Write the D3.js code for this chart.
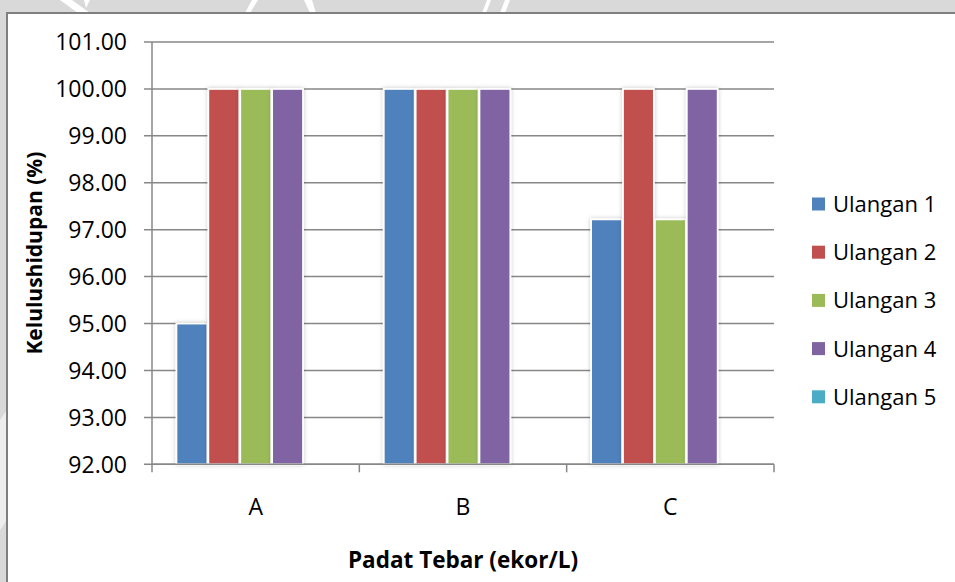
<!DOCTYPE html>
<html>
<head>
<meta charset="utf-8">
<script src="https://cdn.jsdelivr.net/npm/d3@7"></script>
<style>
  html, body { margin: 0; padding: 0; background: #d9d9d9; }
  svg { display: block; }
  text { font-family: "Open Sans", "Noto Sans", sans-serif; fill: #000; }
</style>
</head>
<body>
<svg id="chart" width="955" height="582"></svg>
<script>
const categories = ["A", "B", "C"];
const seriesNames = ["Ulangan 1", "Ulangan 2", "Ulangan 3", "Ulangan 4", "Ulangan 5"];
const ulangan1 = [95.0, 100.0, 97.22];
const ulangan2 = [100.0, 100.0, 100.0];
const ulangan3 = [100.0, 100.0, 97.22];
const ulangan4 = [100.0, 100.0, 100.0];
const ulangan5 = [null, null, null];
const yTicks = [92, 93, 94, 95, 96, 97, 98, 99, 100, 101];
const colors = ["#4f81bd", "#c0504d", "#9bbb59", "#8064a2", "#4bacc6"];
const yTitle = "Kelulushidupan (%)";
const xTitle = "Padat Tebar (ekor/L)";

const seriesValues = [ulangan1, ulangan2, ulangan3, ulangan4, ulangan5];

const svg = d3.select("#chart");
const W = 955, H = 582;

// background with watermark-like shapes
svg.append("rect").attr("width", W).attr("height", H).attr("fill", "#d9d9d9");
const wm = svg.append("g").attr("fill", "#ffffff");
[[60,0,72,0,90,13,78,13],[84,0,90,0,86,8],[245,13,252,0,258,0,250,13],[304,0,312,0,316,13,310,13],
 [482,13,487,0,491,0,486,13],[500,13,505,0,510,0,505,13]].forEach(p => {
  const pts = [];
  for (let i = 0; i < p.length; i += 2) pts.push(p[i] + "," + p[i+1]);
  wm.append("polygon").attr("points", pts.join(" "));
});
svg.append("polygon").attr("points", "0,420 7,410 7,520 0,530").attr("fill", "#ededed");

// chart frame
svg.append("rect").attr("x", 7).attr("y", 13).attr("width", 970).attr("height", 600)
  .attr("fill", "#ffffff").attr("stroke", "#7f7f7f").attr("stroke-width", 2);

const defs = svg.append("defs");
const f = defs.append("filter").attr("id", "sh").attr("x", "-30%").attr("y", "-10%").attr("width", "160%").attr("height", "120%");
f.append("feDropShadow").attr("dx", 0).attr("dy", 0).attr("stdDeviation", 2)
  .attr("flood-color", "#000").attr("flood-opacity", 0.22);

const pLeft = 152, pRight = 774, pTop = 42, pBottom = 464.3;

const x0 = d3.scaleBand().domain(categories).range([pLeft, pRight]).paddingInner(0).paddingOuter(0);
const x1 = d3.scaleBand().domain(seriesNames).range([0, x0.bandwidth()]).paddingInner(0).paddingOuter(0.75);
const y = d3.scaleLinear().domain([92, 101]).range([pBottom, pTop]);

const gridColor = "#878787";

// gridlines
svg.append("g").selectAll("line").data(yTicks).join("line")
  .attr("x1", pLeft - 8).attr("x2", pRight)
  .attr("y1", d => y(d)).attr("y2", d => y(d))
  .attr("stroke", gridColor).attr("stroke-width", 1.5);

// y tick labels
svg.append("g").selectAll("text").data(yTicks).join("text")
  .attr("x", 127).attr("y", d => y(d)).attr("dy", "0.36em")
  .attr("text-anchor", "end").attr("font-size", 23)
  .text(d => d3.format(".2f")(d));

// bars
const bars = [];
categories.forEach((c, ci) => {
  seriesNames.forEach((s, si) => {
    const v = seriesValues[si][ci];
    if (v != null) bars.push({c, s, v, si});
  });
});
svg.append("g").selectAll("rect").data(bars).join("rect")
  .attr("x", d => x0(d.c) + x1(d.s) + 0.5)
  .attr("width", x1.bandwidth() - 1)
  .attr("y", d => y(d.v))
  .attr("height", d => pBottom - y(d.v))
  .attr("fill", d => colors[d.si])
  .attr("stroke", "#ffffff").attr("stroke-width", 1.8)
  .attr("filter", "url(#sh)");

// axes lines
svg.append("line").attr("x1", pLeft).attr("x2", pLeft).attr("y1", pTop).attr("y2", pBottom)
  .attr("stroke", gridColor).attr("stroke-width", 1.5);
svg.append("line").attr("x1", pLeft).attr("x2", pRight).attr("y1", pBottom).attr("y2", pBottom)
  .attr("stroke", gridColor).attr("stroke-width", 1.5);
const bounds = categories.map(c => x0(c)).concat([x0(categories[categories.length-1]) + x0.bandwidth()]);
svg.append("g").selectAll("line").data(bounds).join("line")
  .attr("x1", d => d).attr("x2", d => d).attr("y1", pBottom).attr("y2", pBottom + 8)
  .attr("stroke", gridColor).attr("stroke-width", 1.5);

// category labels
svg.append("g").selectAll("text").data(categories).join("text")
  .attr("x", d => x0(d) + x0.bandwidth() / 2).attr("y", 515)
  .attr("text-anchor", "middle").attr("font-size", 23)
  .text(d => d);

// axis titles
svg.append("text").attr("transform", `translate(42,${(pTop + pBottom) / 2}) rotate(-90)`)
  .attr("text-anchor", "middle").attr("font-size", 21).attr("font-weight", "bold")
  .text(yTitle);
svg.append("text").attr("x", (pLeft + pRight) / 2).attr("y", 568)
  .attr("text-anchor", "middle").attr("font-size", 22.5).attr("font-weight", "bold")
  .text(xTitle);

// legend
const lg = svg.append("g").selectAll("g").data(seriesNames).join("g")
  .attr("transform", (d, i) => `translate(812,${204 + i * 48.2})`);
lg.append("rect").attr("x", 0).attr("y", -6.5).attr("width", 13).attr("height", 13)
  .attr("fill", (d, i) => colors[i]);
lg.append("text").attr("x", 21).attr("y", 0).attr("dy", "0.36em").attr("font-size", 22)
  .text(d => d);
</script>
</body>
</html>
